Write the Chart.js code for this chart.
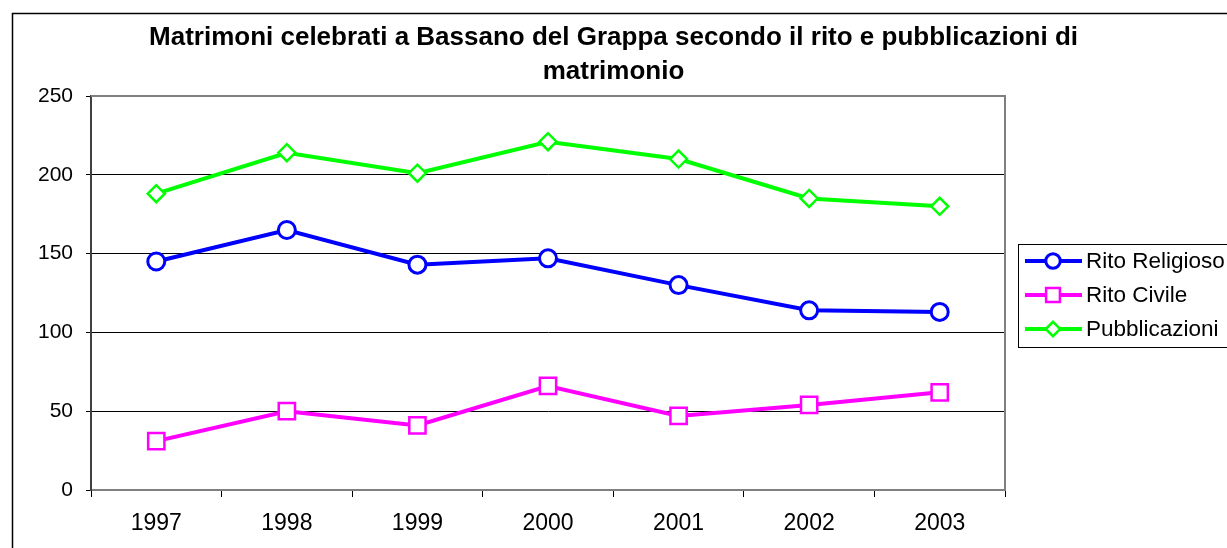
<!DOCTYPE html>
<html>
<head>
<meta charset="utf-8">
<script src="https://cdn.jsdelivr.net/npm/chart.js@4.4.1/dist/chart.umd.min.js"></script>
<style>
  body { margin: 0; background: #fff; }
  #wrap { position: relative; width: 1227px; height: 548px; overflow: hidden; }
</style>
</head>
<body>
<div id="wrap"><canvas id="chart" width="1227" height="548"></canvas></div>
<script>
const years = ["1997", "1998", "1999", "2000", "2001", "2002", "2003"];
const ritoReligioso = [145, 165, 143, 147, 130, 114, 113];
const ritoCivile = [31, 50, 41, 66, 47, 54, 62];
const pubblicazioni = [188, 214, 201, 221, 210, 185, 180];

const titleLines = ["Matrimoni celebrati a Bassano del Grappa secondo il rito e pubblicazioni di", "matrimonio"];

const FONT = "'Liberation Sans', Arial, sans-serif";

// outer frame, title, plot border and the boxed legend on the right
const frame = {
  id: "frame",
  beforeDraw(chart) {
    const ctx = chart.ctx;
    ctx.save();
    ctx.fillStyle = "#fff";
    ctx.fillRect(0, 0, chart.width, chart.height);
    ctx.strokeStyle = "#000";
    ctx.lineWidth = 1.5;
    ctx.beginPath();
    ctx.moveTo(12.5, chart.height);
    ctx.lineTo(12.5, 13.5);
    ctx.lineTo(chart.width, 13.5);
    ctx.stroke();

    ctx.fillStyle = "#000";
    ctx.font = "bold 26px " + FONT;
    ctx.textAlign = "center";
    ctx.textBaseline = "middle";
    titleLines.forEach((t, i) => ctx.fillText(t, chart.width / 2, 38 + i * 34));
    ctx.restore();
  },
  afterDatasetsDraw(chart) {
    const ctx = chart.ctx;
    const a = chart.chartArea;
    ctx.save();
    ctx.strokeStyle = "#808080";
    ctx.lineWidth = 2;
    ctx.beginPath();
    ctx.moveTo(a.left, a.top);
    ctx.lineTo(a.right, a.top);
    ctx.lineTo(a.right, a.bottom);
    ctx.stroke();

    // legend
    ctx.strokeStyle = "#000";
    ctx.lineWidth = 1;
    ctx.strokeRect(1018.5, 244.5, 300, 103);
    ctx.font = "22.5px " + FONT;
    ctx.textBaseline = "middle";
    const rows = [261, 295, 329];
    chart.data.datasets.forEach((ds, i) => {
      const y = rows[i];
      ctx.strokeStyle = ds.borderColor;
      ctx.lineWidth = 4;
      ctx.beginPath();
      ctx.moveTo(1025, y);
      ctx.lineTo(1082, y);
      ctx.stroke();
      ctx.fillStyle = "#fff";
      ctx.strokeStyle = ds.pointBorderColor;
      ctx.lineWidth = ds.pointBorderWidth;
      Chart.helpers.drawPoint(ctx, {
        pointStyle: ds.pointStyle,
        radius: ds.pointRadius * 0.85,
        borderWidth: ds.pointBorderWidth,
        rotation: 0
      }, 1053, y);
      ctx.fillStyle = "#000";
      ctx.fillText(ds.label, 1086, y + 1);
    });
    ctx.restore();
  }
};

const ctx = document.getElementById("chart").getContext("2d");
new Chart(ctx, {
  type: "line",
  data: {
    labels: years,
    datasets: [
      {
        label: "Rito Religioso",
        data: ritoReligioso,
        borderColor: "#0000ff",
        borderWidth: 4,
        pointStyle: "circle",
        pointRadius: 8.5,
        pointBorderWidth: 3,
        pointBorderColor: "#0000ff",
        pointBackgroundColor: "#fff",
      },
      {
        label: "Rito Civile",
        data: ritoCivile,
        borderColor: "#ff00ff",
        borderWidth: 4,
        pointStyle: "rect",
        pointRadius: 11.5,
        pointBorderWidth: 2.5,
        pointBorderColor: "#ff00ff",
        pointBackgroundColor: "#fff",
      },
      {
        label: "Pubblicazioni",
        data: pubblicazioni,
        borderColor: "#00ff00",
        borderWidth: 4,
        pointStyle: "rectRot",
        pointRadius: 8.5,
        pointBorderWidth: 2.5,
        pointBorderColor: "#00ff00",
        pointBackgroundColor: "#fff",
      },
    ],
  },
  options: {
    responsive: false,
    animation: false,
    layout: { padding: { top: 96, right: 222 } },
    plugins: {
      legend: { display: false },
      tooltip: { enabled: false },
      title: { display: false },
    },
    scales: {
      x: {
        offset: true,
        grid: {
          offset: true,
          drawOnChartArea: false,
          tickLength: 7,
          tickColor: "#000",
        },
        border: { color: "#808080", width: 2 },
        ticks: { color: "#000", font: { family: FONT, size: 23 }, padding: 13 },
        afterFit(scale) { scale.height = 58; },
      },
      y: {
        min: 0,
        max: 250,
        ticks: { stepSize: 50, color: "#000", font: { family: FONT, size: 21 }, padding: 13 },
        grid: {
          color: (c) => (c.tick && c.tick.value > 0 && c.tick.value < 250 ? "#000" : "rgba(0,0,0,0)"),
          lineWidth: 1,
          tickLength: 5,
          tickColor: "#000",
        },
        border: { color: "#404040", width: 2 },
        afterFit(scale) { scale.width = 91; },
      },
    },
  },
  plugins: [frame],
});
</script>
</body>
</html>
